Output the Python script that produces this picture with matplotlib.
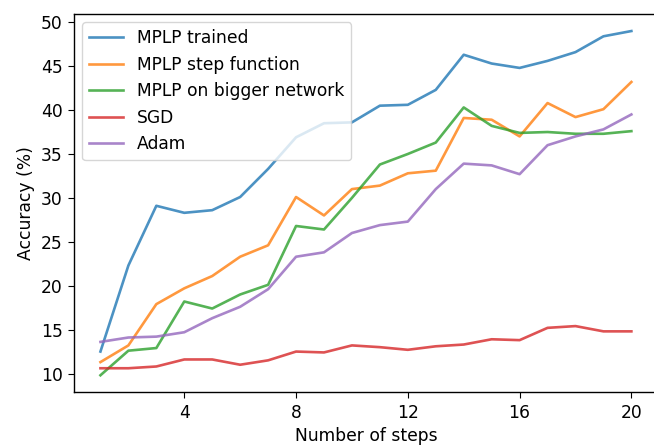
import matplotlib
matplotlib.use("Agg")
import matplotlib.pyplot as plt

steps = list(range(1, 21))

mplp_trained = [12.5, 22.3, 29.1, 28.3, 28.6, 30.1, 33.3, 36.9, 38.5, 38.6,
                40.5, 40.6, 42.3, 46.3, 45.3, 44.8, 45.6, 46.6, 48.4, 49.0]
mplp_step = [11.3, 13.2, 17.9, 19.7, 21.1, 23.3, 24.6, 30.1, 28.0, 31.0,
             31.4, 32.8, 33.1, 39.1, 38.9, 37.0, 40.8, 39.2, 40.1, 43.2]
mplp_bigger = [9.8, 12.6, 12.9, 18.2, 17.4, 19.0, 20.1, 26.8, 26.4, 30.0,
               33.8, 35.0, 36.3, 40.3, 38.2, 37.4, 37.5, 37.3, 37.3, 37.6]
sgd = [10.6, 10.6, 10.8, 11.6, 11.6, 11.0, 11.5, 12.5, 12.4, 13.2,
       13.0, 12.7, 13.1, 13.3, 13.9, 13.8, 15.2, 15.4, 14.8, 14.8]
adam = [13.6, 14.1, 14.2, 14.7, 16.3, 17.6, 19.6, 23.3, 23.8, 26.0,
        26.9, 27.3, 31.0, 33.9, 33.7, 32.7, 36.0, 37.0, 37.8, 39.5]

series = [
    ("MPLP trained", mplp_trained),
    ("MPLP step function", mplp_step),
    ("MPLP on bigger network", mplp_bigger),
    ("SGD", sgd),
    ("Adam", adam),
]

plt.rcParams['font.size'] = 12.3
plt.rcParams['axes.linewidth'] = 1.0
plt.rcParams['xtick.major.size'] = 4.5
plt.rcParams['ytick.major.size'] = 4.5

fig = plt.figure(figsize=(6.54, 4.46), dpi=100)
ax = fig.add_axes([0.113, 0.12, 0.893, 0.849])

for name, vals in series:
    ax.plot(steps, vals, label=name, alpha=0.8, linewidth=1.9)

ax.set_xticks([4, 8, 12, 16, 20])
ax.set_xlabel("Number of steps")
ax.set_ylabel("Accuracy (%)")
ax.legend(loc="upper left")

fig.savefig("out.png", dpi=100)
